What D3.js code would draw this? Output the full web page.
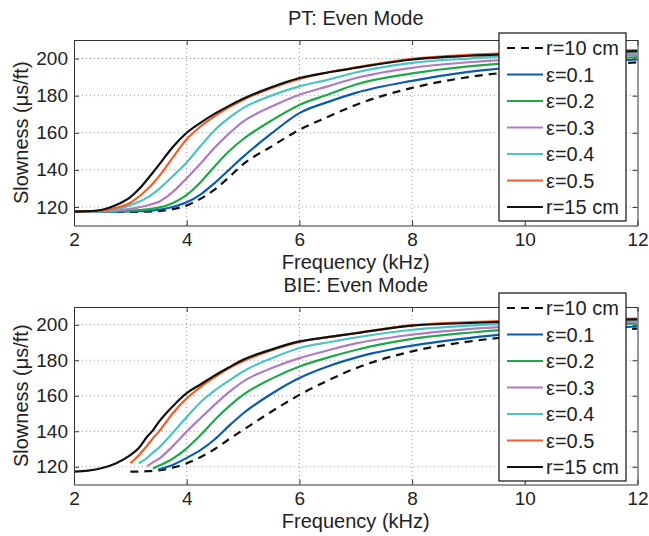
<!DOCTYPE html>
<html>
<head>
<meta charset="utf-8">
<script src="https://cdn.jsdelivr.net/npm/d3@7"></script>
<style>
	body { margin: 0; background: #fff; }
	text { font-family: "Liberation Sans", Arial, Helvetica, sans-serif; fill: #222; }
</style>
</head>
<body>
<div id="content"></div>
<script>
// frequency grid (kHz), shared by every curve
var freq = [2, 2.25, 2.5, 2.75, 3, 3.15, 3.3, 3.4, 3.5, 3.75, 4, 4.25, 4.5, 4.75, 5, 5.5, 6, 6.5, 7, 8, 9, 10, 11, 12];

// PT: slowness (us/ft)
var ptR10 = [117.3, 117.3, 117.3, 117.3, 117.3, 117.4, 117.5, 117.6, 117.8, 118.8, 120.8, 124.5, 129.5, 136, 143, 152.5, 161.6, 168.5, 175, 184.2, 190, 193.5, 196, 198];
var ptE1  = [117.5, 117.5, 117.5, 117.5, 117.6, 117.7, 117.9, 118.1, 118.5, 120, 122.5, 126.8, 133, 140, 147, 159.5, 170.6, 176.5, 181.5, 188, 192.8, 195.8, 197.8, 199.5];
var ptE2  = [117.5, 117.5, 117.5, 117.7, 118, 118.3, 118.7, 119.1, 119.6, 122, 126.5, 133.5, 142, 150, 156.5, 166.5, 175, 180.5, 186, 192, 195.8, 198, 199.5, 200.8];
var ptE3  = [117.5, 117.5, 117.6, 118, 119, 119.8, 120.8, 121.7, 122.7, 128, 135.5, 143.5, 152, 159.5, 166, 174, 180.5, 185, 189.5, 195, 198, 200, 201.2, 202];
var ptE4  = [117.5, 117.5, 117.8, 118.8, 121, 122.8, 125, 127, 129.5, 136.5, 144, 153, 161.5, 168, 173.3, 180, 185, 188.5, 192.5, 197.7, 200, 201.5, 202.5, 203];
var ptE5  = [117.5, 117.6, 118, 119.5, 122.3, 125.5, 129.5, 132.7, 136.2, 146.5, 156.5, 163.5, 169, 173.7, 177.7, 184, 189, 192.5, 195.2, 199.8, 202, 203, 203.8, 204.5];
var ptR15 = [117.5, 117.7, 118.5, 121, 125.3, 129.5, 134.8, 138.6, 142.4, 152.2, 160, 165.5, 170.3, 174.5, 178.3, 184.5, 189.5, 192.5, 195, 199.5, 201.5, 202.5, 203.2, 204];

// BIE: slowness (us/ft), null where the curve is not computed
var bieR10 = [null, null, null, null, 117.2, 117.3, 117.5, 117.7, 118, 119.5, 121.9, 125.5, 130, 135.5, 140.7, 151, 160.5, 168.5, 175.5, 185, 190.5, 194, 196.3, 197.8];
var bieE1  = [null, null, null, null, null, null, null, null, 118.5, 121, 125, 129.5, 135.5, 143, 150, 161, 170, 176.5, 181.5, 188.2, 192.5, 195.5, 197.5, 199];
var bieE2  = [null, null, null, null, null, null, null, 119, 120.5, 124.5, 130.4, 138, 146.5, 154, 160.5, 169.5, 176.5, 181.5, 185.8, 192, 195.5, 198, 199.5, 200.7];
var bieE3  = [null, null, null, null, null, null, 120.4, 122.5, 124.3, 131.5, 139.8, 147.5, 155, 162, 168, 175.5, 181.2, 185.5, 189.5, 194.4, 197.5, 199.5, 200.8, 201.8];
var bieE4  = [null, null, null, null, null, 122, 125, 128, 130.5, 139, 148, 156.5, 163, 168.5, 173.7, 181, 186.9, 190, 192.8, 197.2, 199.5, 201, 201.8, 202.5];
var bieE5  = [null, null, null, null, 122, 126.5, 132, 136, 139.5, 150, 158.5, 165, 170.5, 175.5, 179.5, 185.5, 190.3, 193, 195.3, 199.8, 201.5, 202.4, 203, 203.5];
var bieR15 = [117.2, 117.8, 119.3, 122, 126.5, 130.5, 137, 140.5, 145, 154, 161.5, 166.5, 171.5, 176, 180.3, 186, 190.6, 193, 195.2, 199.5, 201, 202, 202.5, 203];

var labels = ["r=10 cm", "ε=0.1", "ε=0.2", "ε=0.3", "ε=0.4", "ε=0.5", "r=15 cm"];
var xTicks = [2, 4, 6, 8, 10, 12];
var yTicks = [120, 140, 160, 180, 200];

var colors = ["#111", "#0b5cad", "#1fa84a", "#b07cc0", "#4cc3c2", "#f0602a", "#111"];
var dashes = ["8,6", null, null, null, null, null, null];

var W = 649, H = 536;
var left = 74, right = 637.5;

var svg = d3.select("#content").append("svg")
	.attr("width", W).attr("height", H);

var x = d3.scaleLinear().domain([2, 12]).range([left, right]);

function panel(title, series, top, bottom, legendTop, id) {
	var y = d3.scaleLinear().domain([110, 210]).range([bottom, top]);
	var g = svg.append("g");

	// title
	g.append("text").attr("x", (left + right) / 2).attr("y", top - 15)
		.attr("text-anchor", "middle").style("font-size", "20px").text(title);

	// dotted grid
	g.selectAll("line.gx").data(xTicks.slice(1, -1)).enter().append("line")
		.attr("x1", d => x(d)).attr("x2", d => x(d)).attr("y1", top).attr("y2", bottom)
		.style("stroke", "#999").style("stroke-dasharray", "1,3");
	g.selectAll("line.gy").data(yTicks).enter().append("line")
		.attr("y1", d => y(d)).attr("y2", d => y(d)).attr("x1", left).attr("x2", right)
		.style("stroke", "#999").style("stroke-dasharray", "1,3");

	// curves
	g.append("clipPath").attr("id", "clip" + id).append("rect")
		.attr("x", left).attr("y", top).attr("width", right - left).attr("height", bottom - top);

	var line = d3.line()
		.defined(d => d[1] != null)
		.x(d => x(d[0])).y(d => y(d[1]))
		.curve(d3.curveMonotoneX);

	series.forEach(function (s, i) {
		var pts = freq.map((f, j) => [f, s[j]]);
		g.append("path").datum(pts)
			.attr("clip-path", "url(#clip" + id + ")")
			.attr("d", line)
			.style("fill", "none")
			.style("stroke", colors[i])
			.style("stroke-width", 2.2)
			.style("stroke-dasharray", dashes[i]);
	});

	// axes: ticks inside on all four sides
	var axB = d3.axisBottom(x).tickValues(xTicks).tickSizeInner(-5).tickSizeOuter(0).tickPadding(7);
	var axT = d3.axisTop(x).tickValues(xTicks).tickSizeInner(-5).tickSizeOuter(0).tickFormat("");
	var axL = d3.axisLeft(y).tickValues(yTicks).tickSizeInner(-5).tickSizeOuter(0).tickPadding(6);
	var axR = d3.axisRight(y).tickValues(yTicks).tickSizeInner(-5).tickSizeOuter(0).tickFormat("");

	g.append("g").attr("transform", "translate(0," + bottom + ")").call(axB);
	g.append("g").attr("transform", "translate(0," + top + ")").call(axT);
	g.append("g").attr("transform", "translate(" + left + ",0)").call(axL);
	g.append("g").attr("transform", "translate(" + right + ",0)").call(axR);
	g.selectAll(".domain").style("stroke", "#333");
	g.selectAll(".tick line").style("stroke", "#333");
	g.selectAll(".tick text").style("font-size", "19px").style("fill", "#222")
		.style("font-family", "'Liberation Sans', Arial, sans-serif");

	// axis labels
	g.append("text").attr("x", (left + right) / 2).attr("y", bottom + 43)
		.attr("text-anchor", "middle").style("font-size", "20px").text("Frequency (kHz)");
	g.append("text")
		.attr("transform", "translate(28," + ((top + bottom) / 2) + ") rotate(-90)")
		.attr("text-anchor", "middle").style("font-size", "20px").text("Slowness (μs/ft)");

	// legend
	var lx = 499, lw = 127, rowH = 26.5;
	var lg = g.append("g").attr("transform", "translate(" + lx + "," + legendTop + ")");
	lg.append("rect").attr("width", lw).attr("height", 15 + rowH * 6 + 14)
		.style("fill", "#fff").style("stroke", "#111").style("stroke-width", 1.2);
	labels.forEach(function (lab, i) {
		var yy = 15 + i * rowH;
		lg.append("line").attr("x1", 8).attr("x2", 44).attr("y1", yy).attr("y2", yy)
			.style("stroke", colors[i]).style("stroke-width", 2.2)
			.style("stroke-dasharray", dashes[i]);
		lg.append("text").attr("x", 47).attr("y", yy + 7).style("font-size", "20px").text(lab);
	});
}

panel("PT: Even Mode", [ptR10, ptE1, ptE2, ptE3, ptE4, ptE5, ptR15], 40, 225.5, 33, "a");
panel("BIE: Even Mode", [bieR10, bieE1, bieE2, bieE3, bieE4, bieE5, bieR15], 307, 484.5, 293, "b");
</script>
</body>
</html>
